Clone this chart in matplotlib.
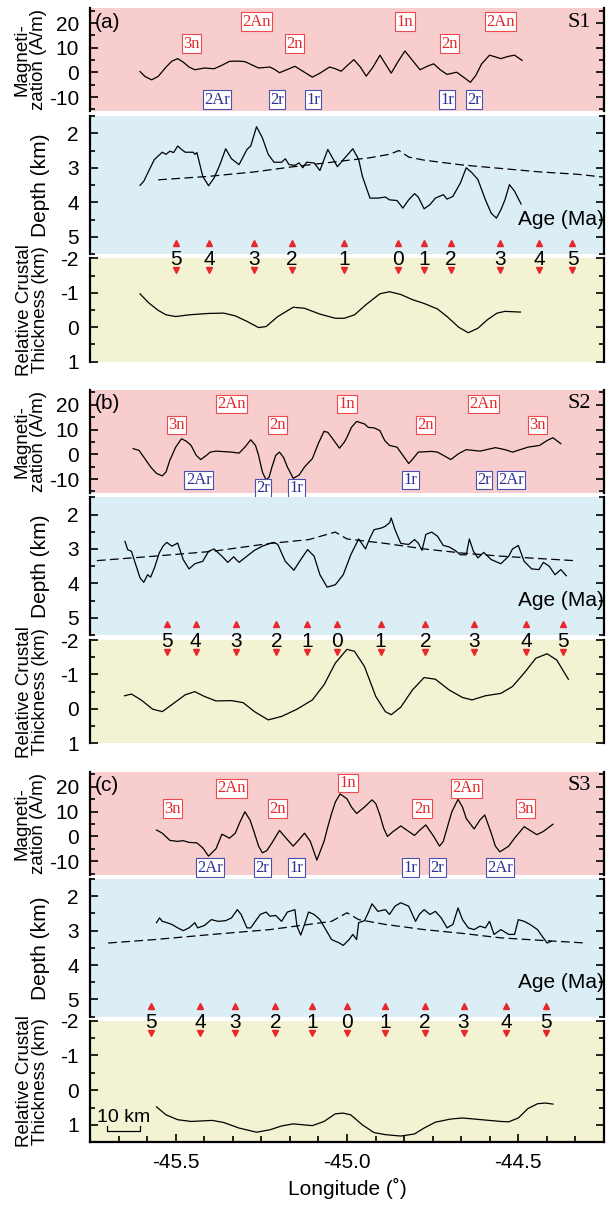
import numpy as np
import matplotlib
matplotlib.use('Agg')
import matplotlib.pyplot as plt
from matplotlib.ticker import MultipleLocator, FormatStrFormatter
import matplotlib.transforms as mtransforms

plt.rcParams['font.family'] = ['Liberation Sans', 'DejaVu Sans']
plt.rcParams['axes.unicode_minus'] = False

# ---------------- S1 ----------------
lon_mag_s1 = [-45.604, -45.590, -45.570, -45.551, -45.528, -45.511, -45.494, -45.478, -45.461, -45.444,
              -45.416, -45.388, -45.365, -45.343, -45.320, -45.298, -45.275, -45.258, -45.225, -45.211,
              -45.197, -45.174, -45.152, -45.129, -45.101, -45.079, -45.051, -45.034, -45.017, -45.000,
              -44.980, -44.961, -44.944, -44.924, -44.904, -44.888, -44.871, -44.852, -44.831, -44.809,
              -44.787, -44.766, -44.747, -44.728, -44.708, -44.680, -44.663, -44.640, -44.624, -44.607,
              -44.584, -44.567, -44.551, -44.530, -44.511, -44.489]
mag_s1 = [0.4, -1.6, -3.0, -1.6, 2.2, 4.6, 5.6, 4.2, 2.2, 1.1,
          1.8, 1.5, 2.9, 4.5, 4.6, 4.4, 2.9, 1.8, 2.2, 1.2,
          -0.1, 1.2, 2.5, 0.5, -1.9, -0.3, 2.2, 1.5, 0.5, 2.7,
          5.2, 2.2, -1.5, 2.2, 7.0, 3.5, -0.3, 4.2, 8.7, 4.9,
          1.1, 2.5, 3.5, 1.1, -0.8, 0.1, -1.6, -4.0, -1.2, 3.5,
          7.0, 6.3, 5.6, 6.5, 7.0, 4.9]

lon_dep_s1 = [-45.604, -45.593, -45.579, -45.562, -45.539, -45.528, -45.517, -45.506, -45.494, -45.483,
              -45.472, -45.449, -45.444, -45.438, -45.433, -45.421, -45.404, -45.388, -45.371, -45.354,
              -45.337, -45.315, -45.292, -45.281, -45.264, -45.247, -45.230, -45.213, -45.191, -45.180,
              -45.169, -45.152, -45.140, -45.129, -45.118, -45.096, -45.079, -45.056, -45.028, -45.006,
              -44.983, -44.966, -44.955, -44.933, -44.910, -44.888, -44.876, -44.854, -44.837, -44.820,
              -44.803, -44.792, -44.775, -44.758, -44.742, -44.719, -44.708, -44.691, -44.669, -44.652,
              -44.635, -44.618, -44.596, -44.579, -44.564, -44.551, -44.539, -44.526, -44.511, -44.492]
dep_s1 = [3.51, 3.39, 3.10, 2.76, 2.55, 2.61, 2.52, 2.56, 2.37, 2.47,
          2.55, 2.55, 2.61, 2.56, 2.76, 3.25, 3.52, 3.30, 2.91, 2.45,
          2.74, 2.91, 2.47, 2.37, 1.81, 2.13, 2.61, 2.84, 2.84, 2.74,
          2.91, 2.93, 2.86, 3.00, 2.84, 2.86, 3.08, 2.47, 2.97, 2.71,
          2.45, 2.76, 3.25, 3.88, 3.88, 3.85, 3.93, 3.95, 4.17, 3.93,
          3.75, 3.85, 4.19, 4.07, 3.88, 3.78, 3.91, 3.83, 3.44, 3.00,
          3.15, 3.34, 3.93, 4.32, 4.46, 4.22, 3.93, 3.49, 3.68, 4.05]

lon_ref_s1 = [-45.551, -45.404, -45.270, -45.157, -45.045, -44.933, -44.876, -44.848,
              -44.820, -44.775, -44.663, -44.551, -44.438, -44.326, -44.253]
ref_s1 = [3.35, 3.25, 3.12, 2.97, 2.84, 2.71, 2.61, 2.50,
          2.69, 2.78, 2.92, 3.02, 3.12, 3.19, 3.27]

lon_crust_s1 = [-45.604, -45.579, -45.551, -45.528, -45.500, -45.461, -45.404, -45.360, -45.326, -45.292,
                -45.258, -45.236, -45.202, -45.157, -45.124, -45.079, -45.034, -45.008, -44.978, -44.944,
                -44.904, -44.876, -44.843, -44.809, -44.775, -44.736, -44.708, -44.674, -44.646, -44.618,
                -44.590, -44.562, -44.539, -44.494]
crust_s1 = [-0.97, -0.71, -0.49, -0.36, -0.31, -0.36, -0.40, -0.41, -0.33, -0.17,
            0.01, -0.02, -0.31, -0.58, -0.55, -0.38, -0.26, -0.26, -0.36, -0.66,
            -0.97, -1.03, -0.95, -0.80, -0.69, -0.53, -0.31, 0.00, 0.16, 0.03,
            -0.22, -0.41, -0.46, -0.44]

age_lon_s1 = [-45.500, -45.403, -45.271, -45.160, -45.008, -44.851, -44.776, -44.696, -44.553, -44.439, -44.342]

n_lab_s1 = ['3n', '2An', '2n', '1n', '2n', '2An']
n_lon_s1 = [-45.453, -45.264, -45.152, -44.831, -44.702, -44.551]
n_val_s1 = [11.7, 20.6, 11.7, 20.6, 11.7, 20.6]
r_lab_s1 = ['2Ar', '2r', '1r', '1r', '2r']
r_lon_s1 = [-45.379, -45.204, -45.099, -44.708, -44.629]
r_val_s1 = [-11.0, -11.0, -11.0, -11.0, -11.0]

# ---------------- S2 ----------------
lon_mag_s2 = [-45.624, -45.607, -45.590, -45.573, -45.556, -45.539, -45.528, -45.517, -45.500, -45.483,
              -45.469, -45.455, -45.440, -45.427, -45.410, -45.399, -45.382, -45.337, -45.315, -45.298,
              -45.281, -45.267, -45.258, -45.247, -45.236, -45.227, -45.219, -45.208, -45.197, -45.185,
              -45.174, -45.157, -45.140, -45.124, -45.101, -45.084, -45.067, -45.056, -45.045, -45.022,
              -45.008, -45.000, -44.987, -44.972, -44.949, -44.938, -44.921, -44.904, -44.890, -44.876,
              -44.854, -44.837, -44.820, -44.807, -44.792, -44.753, -44.736, -44.719, -44.697, -44.674,
              -44.652, -44.612, -44.567, -44.539, -44.517, -44.472, -44.438, -44.416, -44.399, -44.376]
mag_s2 = [2.3, 1.6, -1.7, -5.1, -7.7, -8.7, -7.1, -2.4, 2.9, 6.3,
          5.3, 3.6, -0.4, -2.1, -0.4, 0.9, 1.3, 0.9, 0.5, 2.9,
          5.9, 3.6, -0.4, -7.1, -10.4, -9.1, -5.1, -0.4, 0.9, -1.3,
          -5.1, -9.7, -8.4, -5.1, -1.7, 4.3, 9.3, 8.9, 6.9, 2.5,
          4.9, 6.9, 10.9, 13.3, 12.3, 10.9, 10.7, 9.6, 5.6, 3.6,
          2.9, -0.4, -3.7, -1.7, 0.9, 1.2, 0.9, -0.4, -2.1, 0.3,
          1.9, 1.3, 2.7, 1.9, 0.9, 2.9, 3.6, 5.6, 6.7, 4.3]

lon_dep_s2 = [-45.648, -45.640, -45.629, -45.618, -45.604, -45.593, -45.582, -45.573, -45.562, -45.548,
              -45.537, -45.526, -45.511, -45.494, -45.478, -45.461, -45.444, -45.421, -45.404, -45.388,
              -45.365, -45.348, -45.331, -45.315, -45.292, -45.270, -45.247, -45.225, -45.213, -45.202,
              -45.180, -45.155, -45.135, -45.115, -45.096, -45.079, -45.058, -45.034, -45.011, -44.989,
              -44.966, -44.946, -44.933, -44.921, -44.899, -44.888, -44.876, -44.871, -44.860, -44.843,
              -44.820, -44.803, -44.792, -44.781, -44.770, -44.753, -44.736, -44.719, -44.702, -44.685,
              -44.669, -44.652, -44.643, -44.631, -44.618, -44.601, -44.579, -44.551, -44.528, -44.517,
              -44.500, -44.483, -44.461, -44.440, -44.427, -44.410, -44.393, -44.376, -44.360]
dep_s2 = [2.78, 3.02, 3.07, 3.41, 3.84, 3.97, 3.75, 3.82, 3.55, 3.12,
          2.92, 2.81, 2.92, 2.83, 3.31, 3.58, 3.43, 3.36, 3.07, 3.00,
          3.21, 3.39, 3.23, 3.39, 3.21, 3.04, 2.92, 2.84, 2.81, 2.87,
          3.36, 3.62, 3.31, 3.02, 3.21, 3.75, 4.11, 4.04, 3.75, 3.17,
          2.71, 3.00, 2.68, 2.44, 2.39, 2.34, 2.24, 2.10, 2.44, 2.84,
          2.87, 2.73, 2.83, 3.04, 2.58, 2.51, 2.63, 2.90, 2.94, 3.04,
          3.17, 3.17, 2.71, 3.07, 3.26, 3.10, 3.31, 3.43, 3.21, 3.00,
          2.90, 3.36, 3.58, 3.60, 3.39, 3.50, 3.75, 3.60, 3.78]

lon_ref_s2 = [-45.730, -45.562, -45.393, -45.225, -45.112, -45.034, -45.000,
              -44.888, -44.775, -44.663, -44.551, -44.438, -44.337]
ref_s2 = [3.34, 3.21, 3.07, 2.84, 2.73, 2.51, 2.71,
          2.84, 3.00, 3.12, 3.21, 3.28, 3.34]

lon_crust_s2 = [-45.649, -45.629, -45.601, -45.567, -45.539, -45.506, -45.472, -45.444, -45.416, -45.382,
                -45.337, -45.303, -45.270, -45.230, -45.191, -45.146, -45.101, -45.067, -45.034, -45.000,
                -44.978, -44.949, -44.916, -44.888, -44.871, -44.843, -44.809, -44.775, -44.742, -44.702,
                -44.663, -44.635, -44.596, -44.551, -44.517, -44.483, -44.449, -44.416, -44.388, -44.354]
crust_s2 = [-0.38, -0.43, -0.26, 0.01, 0.08, -0.16, -0.41, -0.50, -0.36, -0.23,
            -0.24, -0.18, 0.08, 0.32, 0.22, 0.01, -0.26, -0.70, -1.33, -1.73,
            -1.67, -1.23, -0.36, 0.08, 0.17, -0.05, -0.55, -0.91, -0.86, -0.55,
            -0.33, -0.26, -0.38, -0.45, -0.65, -1.04, -1.47, -1.60, -1.42, -0.86]

age_lon_s2 = [-45.526, -45.442, -45.324, -45.206, -45.117, -45.028, -44.902, -44.771, -44.630, -44.478, -44.370]

n_lab_s2 = ['3n', '2An', '2n', '1n', '2n', '2An', '3n']
n_lon_s2 = [-45.498, -45.337, -45.202, -45.000, -44.770, -44.601, -44.444]
n_val_s2 = [11.9, 20.3, 11.9, 20.3, 11.9, 20.3, 11.9]
r_lab_s2 = ['2Ar', '2r', '1r', '1r', '2r', '2Ar']
r_lon_s2 = [-45.433, -45.245, -45.148, -44.815, -44.601, -44.522]
r_val_s2 = [-10.4, -13.7, -13.7, -10.4, -10.4, -10.4]

# ---------------- S3 ----------------
lon_mag_s3 = [-45.556, -45.539, -45.517, -45.494, -45.478, -45.461, -45.438, -45.421, -45.404, -45.382,
              -45.365, -45.343, -45.326, -45.312, -45.298, -45.283, -45.270, -45.258, -45.247, -45.234,
              -45.219, -45.197, -45.174, -45.157, -45.140, -45.124, -45.107, -45.088, -45.067, -45.056,
              -45.045, -45.034, -45.020, -45.000, -44.987, -44.972, -44.949, -44.927, -44.916, -44.904,
              -44.893, -44.882, -44.865, -44.843, -44.820, -44.803, -44.787, -44.770, -44.747, -44.730,
              -44.719, -44.708, -44.694, -44.676, -44.663, -44.652, -44.629, -44.612, -44.598, -44.579,
              -44.567, -44.554, -44.528, -44.511, -44.483, -44.461, -44.446, -44.427, -44.399]
mag_s3 = [2.6, 1.3, -1.6, -2.0, -1.7, -2.4, -2.6, -4.6, -7.9, -4.9,
          0.9, -0.7, 1.3, 5.9, 9.9, 6.6, 1.3, -3.9, -6.6, -5.7,
          -2.6, 2.4, -1.3, -3.9, -1.3, 1.3, -2.0, -9.5, -2.0, 3.9,
          9.2, 13.8, 17.1, 15.1, 11.8, 9.2, 11.8, 14.7, 13.2, 8.6,
          3.3, 0.0, 2.0, 4.2, 2.0, 0.4, 2.6, 4.6, 0.0, -3.9,
          -2.0, 3.3, 9.9, 14.9, 11.8, 7.2, 3.0, 6.6, 8.6, 1.3,
          -3.9, -6.2, -3.9, -0.7, 3.9, 2.0, 0.7, 2.0, 4.9]

lon_dep_s3 = [-45.556, -45.547, -45.539, -45.528, -45.511, -45.494, -45.478, -45.461, -45.444, -45.436,
              -45.416, -45.396, -45.376, -45.354, -45.337, -45.320, -45.309, -45.292, -45.281, -45.264,
              -45.253, -45.236, -45.225, -45.208, -45.191, -45.174, -45.152, -45.146, -45.135, -45.124,
              -45.112, -45.096, -45.079, -45.062, -45.045, -45.022, -45.011, -44.994, -44.983, -44.972,
              -44.966, -44.949, -44.938, -44.927, -44.910, -44.888, -44.876, -44.860, -44.843, -44.820,
              -44.809, -44.800, -44.789, -44.775, -44.758, -44.742, -44.725, -44.708, -44.691, -44.676,
              -44.663, -44.646, -44.629, -44.612, -44.596, -44.584, -44.571, -44.551, -44.528, -44.511,
              -44.500, -44.483, -44.466, -44.444, -44.427, -44.416, -44.404]
dep_s3 = [2.77, 2.63, 2.73, 2.76, 2.82, 2.92, 3.00, 2.92, 2.77, 2.92,
          2.85, 2.68, 2.73, 2.71, 2.63, 2.39, 2.53, 2.92, 2.92, 2.68,
          2.53, 2.46, 2.58, 2.56, 2.73, 2.46, 2.39, 2.87, 3.13, 2.82,
          2.46, 2.53, 2.68, 2.97, 3.26, 3.36, 3.43, 3.26, 3.11, 3.26,
          2.77, 2.71, 2.48, 2.22, 2.44, 2.39, 2.53, 2.29, 2.19, 2.29,
          2.53, 2.73, 2.53, 2.39, 2.53, 2.44, 2.63, 2.92, 2.82, 2.34,
          2.68, 2.92, 2.97, 2.87, 2.92, 2.73, 3.11, 2.97, 3.11, 3.11,
          2.68, 2.73, 2.82, 2.97, 3.21, 3.36, 3.31]

lon_ref_s3 = [-45.697, -45.562, -45.393, -45.225, -45.112, -45.045, -45.000,
              -44.966, -44.888, -44.775, -44.663, -44.551, -44.438, -44.303]
ref_s3 = [3.36, 3.26, 3.11, 2.97, 2.82, 2.73, 2.48,
          2.68, 2.82, 2.97, 3.08, 3.21, 3.28, 3.36]

lon_crust_s3 = [-45.556, -45.528, -45.494, -45.455, -45.393, -45.360, -45.315, -45.264, -45.225, -45.191,
                -45.157, -45.124, -45.101, -45.067, -45.034, -45.011, -44.989, -44.955, -44.921, -44.888,
                -44.843, -44.803, -44.775, -44.742, -44.697, -44.663, -44.607, -44.551, -44.528, -44.500,
                -44.472, -44.444, -44.421, -44.399]
crust_s3 = [0.48, 0.71, 0.85, 0.90, 0.87, 0.93, 1.09, 1.21, 1.14, 1.03,
            0.97, 1.00, 1.02, 0.90, 0.68, 0.66, 0.71, 1.00, 1.22, 1.28,
            1.32, 1.26, 1.09, 0.92, 0.83, 0.80, 0.85, 0.90, 0.91, 0.80,
            0.53, 0.39, 0.37, 0.40]

age_lon_s3 = [-45.572, -45.429, -45.328, -45.209, -45.103, -45.000, -44.888, -44.773, -44.660, -44.536, -44.420]

n_lab_s3 = ['3n', '2An', '2n', '1n', '2n', '2An', '3n']
n_lon_s3 = [-45.509, -45.337, -45.202, -44.997, -44.781, -44.652, -44.478]
n_val_s3 = [11.2, 19.3, 11.2, 21.4, 11.2, 19.3, 11.2]
r_lab_s3 = ['2Ar', '2r', '1r', '1r', '2r', '2Ar']
r_lon_s3 = [-45.399, -45.247, -45.148, -44.815, -44.736, -44.553]
r_val_s3 = [-12.5, -12.5, -12.5, -12.5, -12.5, -12.5]

age_lab = ['5', '4', '3', '2', '1', '0', '1', '2', '3', '4', '5']

# ---------------- figure ----------------
W, H = 606, 1206
fig = plt.figure(figsize=(W / 100, H / 100), dpi=100)

PINK = '#f7cdcd'
BLUE = '#dbeef6'
YELL = '#f3f2d2'
RED = '#e8282b'
NRED = '#e5282c'
NAVY = '#2e3192'


def make_ax(top, bottom):
    return fig.add_axes([90 / W, 1 - bottom / H, 514 / W, (bottom - top) / H])


def style(ax, bg, ylim, minor):
    ax.set_facecolor(bg)
    ax.set_xlim(-45.75, -44.25)
    ax.set_ylim(*ylim)
    ax.yaxis.set_major_locator(MultipleLocator(10 if minor == 5 else 1))
    ax.yaxis.set_minor_locator(MultipleLocator(minor))
    ax.yaxis.set_major_formatter(FormatStrFormatter('%g'))
    ax.spines['top'].set_visible(False)
    ax.spines['bottom'].set_visible(False)
    for s in ['left', 'right']:
        ax.spines[s].set_linewidth(1.6)
    ax.tick_params(axis='y', which='both', direction='in', left=True, right=True,
                   labelsize=15, pad=8, width=1.2)
    ax.tick_params(axis='y', which='major', length=6)
    ax.tick_params(axis='y', which='minor', length=3.5)
    ax.tick_params(axis='x', which='both', bottom=False, labelbottom=False)


def chron(ax, labs, lons, vals, col, ecol):
    for lab, x, y in zip(labs, lons, vals):
        ax.text(x, y, lab, ha='center', va='center', color=col, fontsize=12,
                family=['Liberation Serif', 'DejaVu Serif'], clip_on=False, zorder=5,
                bbox=dict(boxstyle='square,pad=0.08', fc='white', ec=ecol, lw=0.8))


profiles = [
    dict(tag='(a)', name='S1', tops=[(8.3, 110.7), (116, 254), (258.3, 361.7)], crust_ylim=(1, -2),
         lm=lon_mag_s1, m=mag_s1, ld=lon_dep_s1, d=dep_s1, lr=lon_ref_s1, r=ref_s1,
         lc=lon_crust_s1, c=crust_s1, al=age_lon_s1,
         nl=n_lab_s1, nx=n_lon_s1, ny=n_val_s1, rl=r_lab_s1, rx=r_lon_s1, ry=r_val_s1),
    dict(tag='(b)', name='S2', tops=[(390, 492.7), (497.3, 635), (640, 743.3)], crust_ylim=(1, -2),
         lm=lon_mag_s2, m=mag_s2, ld=lon_dep_s2, d=dep_s2, lr=lon_ref_s2, r=ref_s2,
         lc=lon_crust_s2, c=crust_s2, al=age_lon_s2,
         nl=n_lab_s2, nx=n_lon_s2, ny=n_val_s2, rl=r_lab_s2, rx=r_lon_s2, ry=r_val_s2),
    dict(tag='(c)', name='S3', tops=[(771.7, 875), (879, 1016.7), (1020.7, 1142.3)], crust_ylim=(1.5, -2),
         lm=lon_mag_s3, m=mag_s3, ld=lon_dep_s3, d=dep_s3, lr=lon_ref_s3, r=ref_s3,
         lc=lon_crust_s3, c=crust_s3, al=age_lon_s3,
         nl=n_lab_s3, nx=n_lon_s3, ny=n_val_s3, rl=r_lab_s3, rx=r_lon_s3, ry=r_val_s3),
]

for p in profiles:
    (t1, b1), (t2, b2), (t3, b3) = p['tops']

    # magnetization
    ax1 = make_ax(t1, b1)
    style(ax1, PINK, (-15.5, 26), 5)
    ax1.plot(p['lm'], p['m'], color='black', lw=0.9)
    chron(ax1, p['nl'], p['nx'], p['ny'], NRED, '#ee4a4e')
    chron(ax1, p['rl'], p['rx'], p['ry'], NAVY, '#4a4fb0')
    ax1.text(0.01, 0.865, p['tag'], transform=ax1.transAxes, ha='left', va='center', fontsize=15)
    ax1.text(0.975, 0.865, p['name'], transform=ax1.transAxes, ha='right', va='center',
             fontsize=16, family=['Liberation Serif', 'DejaVu Serif'])
    ax1.set_ylabel('Magneti-\nzation (A/m)', fontsize=13.5, va='center', linespacing=0.95)
    ax1.yaxis.set_label_coords(-0.117, 0.5)

    # depth
    ax2 = make_ax(t2, b2)
    style(ax2, BLUE, (5.5, 1.5), 0.5)
    ax2.plot(p['ld'], p['d'], color='black', lw=0.9)
    ax2.plot(p['lr'], p['r'], color='black', lw=0.9, dashes=(7, 3.5))
    trans2 = mtransforms.blended_transform_factory(ax2.transData, ax2.transAxes)
    ax2.plot(p['al'], [0.078] * len(p['al']), ls='none', marker='^', ms=4.5,
             color=RED, transform=trans2, clip_on=False)
    ax2.text(1.0, 0.25, 'Age (Ma)', transform=ax2.transAxes, ha='right', va='center', fontsize=15)
    ax2.set_ylabel('Depth (km)', fontsize=15, va='center')
    ax2.yaxis.set_label_coords(-0.097, 0.5)

    # crustal thickness
    ax3 = make_ax(t3, b3)
    style(ax3, YELL, p['crust_ylim'], 0.5)
    ax3.plot(p['lc'], p['c'], color='black', lw=0.9)
    trans3 = mtransforms.blended_transform_factory(ax3.transData, ax3.transAxes)
    ydown = 1 - 12.0 / (b3 - t3)
    ax3.plot(p['al'], [ydown] * len(p['al']), ls='none', marker='v', ms=4.5,
             color=RED, transform=trans3, clip_on=False)
    ynum = 1 - 1.5 / (b3 - t3)
    for x, lab in zip(p['al'], age_lab):
        ax3.text(x, ynum, lab, transform=trans3, ha='center', va='center', fontsize=15,
                 clip_on=False, zorder=6)
    ax3.set_ylabel('Relative Crustal\nThickness (km)', fontsize=13.5, va='center', linespacing=0.95)
    ax3.yaxis.set_label_coords(-0.112, 0.5)

# bottom axis of the last panel
ax3.spines['bottom'].set_visible(True)
ax3.spines['bottom'].set_linewidth(1.6)
ax3.xaxis.set_major_locator(MultipleLocator(0.5))
ax3.xaxis.set_minor_locator(MultipleLocator(1 / 12))
ax3.xaxis.set_major_formatter(FormatStrFormatter('%.1f'))
ax3.tick_params(axis='x', which='both', direction='in', bottom=True, labelbottom=True,
                labelsize=15, pad=8, width=1.2)
ax3.tick_params(axis='x', which='major', length=6)
ax3.tick_params(axis='x', which='minor', length=4)
ax3.set_xlabel('Longitude (˚)', fontsize=15, labelpad=4)

# 10 km scale bar
ax3.plot([-45.70, -45.70, -45.605, -45.605], [1.02, 1.17, 1.17, 1.02], color='black', lw=0.9)
ax3.text(-45.652, 0.93, '10 km', ha='center', va='baseline', fontsize=14)

fig.savefig('out.png', dpi=100)
